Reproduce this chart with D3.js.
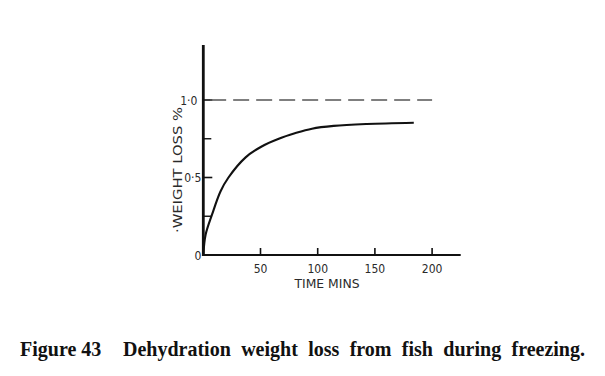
<!DOCTYPE html>
<html><head><meta charset="utf-8">
<script src="https://cdn.jsdelivr.net/npm/d3@7"></script>
<style>body{margin:0;background:#fff}svg{display:block}</style>
</head><body>
<script>
const timeMins = [0, 2, 7.6, 15, 22, 37, 51, 66, 80, 95, 114, 143, 184];
const weightLoss = [0, 0.13, 0.26, 0.41, 0.50, 0.63, 0.70, 0.75, 0.785, 0.815, 0.833, 0.845, 0.853];
const xTicks = [50, 100, 150, 200];
const yTickLabels = [{v: 0, t: "0"}, {v: 0.5, t: "0·5"}, {v: 1.0, t: "1·0"}];
const yMinorTicks = [0.25, 0.75];
const asymptote = 1.0;
const captionLead = "Figure 43";
const captionText = "Dehydration weight loss from fish during freezing.";

const W = 605, H = 376;
const svg = d3.select("body").append("svg").attr("width", W).attr("height", H);
const x = d3.scaleLinear().domain([0, 225]).range([203.3, 460.7]);
const y = d3.scaleLinear().domain([0, 1]).range([255, 100]);
const ink = "#111";
const lab = "#2a2a2a";
const font = "'DejaVu Sans Condensed', 'DejaVu Sans', sans-serif";

// axes
svg.append("line").attr("x1", x(0)).attr("x2", x(225)).attr("y1", y(0)).attr("y2", y(0))
  .attr("stroke", ink).attr("stroke-width", 2.2);
svg.append("line").attr("x1", x(0)).attr("x2", x(0)).attr("y1", y(0) + 1).attr("y2", y(1.355))
  .attr("stroke", ink).attr("stroke-width", 2.8);

// x ticks
svg.selectAll(".xt").data(xTicks).enter().append("line")
  .attr("x1", d => x(d)).attr("x2", d => x(d)).attr("y1", y(0)).attr("y2", y(0) - 7)
  .attr("stroke", ink).attr("stroke-width", 1.6);
svg.selectAll(".xl").data(xTicks).enter().append("text")
  .attr("x", d => x(d)).attr("y", 272.5).attr("text-anchor", "middle")
  .attr("font-family", font).attr("font-size", 12).attr("fill", lab).text(d => d);
svg.append("text").attr("x", 327).attr("y", 288).attr("text-anchor", "middle")
  .attr("font-family", font).attr("font-size", 11.5).attr("fill", lab)
  .attr("textLength", 65).attr("lengthAdjust", "spacingAndGlyphs").text("TIME MINS");

// y ticks
svg.selectAll(".yt").data([0.5, 1.0]).enter().append("line")
  .attr("x1", x(0)).attr("x2", x(0) + 9).attr("y1", d => y(d)).attr("y2", d => y(d))
  .attr("stroke", ink).attr("stroke-width", 1.6);
svg.selectAll(".ym").data(yMinorTicks).enter().append("line")
  .attr("x1", x(0)).attr("x2", x(0) + 8).attr("y1", d => y(d)).attr("y2", d => y(d))
  .attr("stroke", ink).attr("stroke-width", 1.4);
svg.selectAll(".yl").data(yTickLabels).enter().append("text")
  .attr("x", d => d.v === 1 ? x(0) - 6 : x(0) - 2).attr("y", d => y(d.v) + 4.5).attr("text-anchor", "end")
  .attr("font-family", font).attr("font-size", 12).attr("fill", lab).text(d => d.t);
svg.append("text").attr("transform", "translate(182,170) rotate(-90)").attr("text-anchor", "middle")
  .attr("font-family", font).attr("font-size", 13).attr("fill", lab)
  .attr("textLength", 126).attr("lengthAdjust", "spacingAndGlyphs").text("·WEIGHT LOSS %");

// dashed asymptote
svg.append("line").attr("x1", x(6)).attr("x2", x(200)).attr("y1", y(asymptote)).attr("y2", y(asymptote))
  .attr("stroke", "#555").attr("stroke-width", 1.4).attr("stroke-dasharray", "16,7");

// curve
const data = timeMins.map((t, i) => [t, weightLoss[i]]);
svg.append("path").datum(data)
  .attr("d", d3.line().x(d => x(d[0])).y(d => y(d[1])).curve(d3.curveCatmullRom.alpha(0.5)))
  .attr("fill", "none").attr("stroke", ink).attr("stroke-width", 2.1);

// caption
const capFont = "'Liberation Serif', 'Times New Roman', serif";
svg.append("text").attr("x", 20).attr("y", 356)
  .attr("font-family", capFont).attr("font-weight", "bold").attr("font-size", 20)
  .attr("fill", "#111").text(captionLead);
const cap = svg.append("text").attr("x", 123).attr("y", 356)
  .attr("font-family", capFont).attr("font-weight", "bold").attr("font-size", 20)
  .attr("fill", "#111").text(captionText);
const natural = cap.node().getComputedTextLength();
const gaps = captionText.split(" ").length - 1;
cap.attr("word-spacing", Math.max(0, (462 - natural) / gaps));
</script>
</body></html>
